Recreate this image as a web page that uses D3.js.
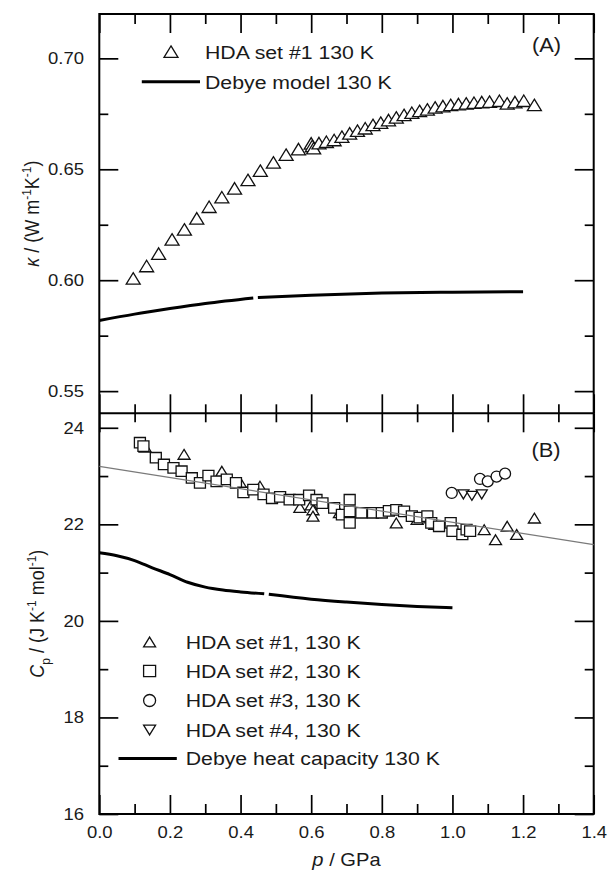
<!DOCTYPE html>
<html>
<head>
<meta charset="utf-8">
<script src="https://cdn.jsdelivr.net/npm/d3@7"></script>
<style>
  html, body { margin: 0; padding: 0; background: #fff; }
  svg { display: block; font-family: 'Liberation Sans', Arial, sans-serif; }
</style>
</head>
<body>
<div id="chart"></div>
<script>
// ---- data ----
const pMajor = [0, 0.2, 0.4, 0.6, 0.8, 1.0, 1.2, 1.4];
const pMinor = [0.1, 0.3, 0.5, 0.7, 0.9, 1.1, 1.3];
const kappaMajor = [0.55, 0.60, 0.65, 0.70];
const kappaMinor = [0.575, 0.625, 0.675];
const cpMajor = [16, 18, 20, 22, 24];
const cpMinor = [17, 19, 21, 23];

// (A) thermal conductivity, HDA set #1
const kappaSet1 = [
  [0.096, 0.6008], [0.134, 0.6064], [0.168, 0.6120], [0.206, 0.6184], [0.241, 0.6229],
  [0.276, 0.6279], [0.311, 0.6331], [0.347, 0.6374], [0.383, 0.6414], [0.421, 0.6452],
  [0.456, 0.6494], [0.493, 0.6531], [0.529, 0.6566], [0.564, 0.6591], [0.600, 0.6617],
  [0.603, 0.6605], [0.607, 0.6595], [0.622, 0.6618], [0.643, 0.6624], [0.665, 0.6632],
  [0.687, 0.6647], [0.709, 0.6662], [0.731, 0.6674], [0.753, 0.6685], [0.775, 0.6700],
  [0.797, 0.6710], [0.819, 0.6722], [0.841, 0.6734], [0.863, 0.6745], [0.885, 0.6755],
  [0.907, 0.6763], [0.929, 0.6770], [0.951, 0.6779], [0.973, 0.6785], [0.995, 0.6790],
  [1.017, 0.6794], [1.039, 0.6797], [1.061, 0.6800], [1.083, 0.6803], [1.105, 0.6805],
  [1.133, 0.6809], [1.155, 0.6797], [1.177, 0.6803], [1.202, 0.6809], [1.232, 0.6790]
];
// Debye model, drawn in two pieces (small gap in the original)
const kappaDebyeA = [[0, 0.5818], [0.1, 0.5847], [0.2, 0.5872], [0.3, 0.5895], [0.436, 0.5920]];
const kappaDebyeB = [[0.449, 0.5922], [0.6, 0.5932], [0.8, 0.5942], [1.0, 0.5946], [1.2, 0.5948]];

// (B) heat capacity
const cpSet1 = [
  [0.13, 23.60], [0.24, 23.45], [0.347, 23.10], [0.40, 22.86], [0.455, 22.79],
  [0.568, 22.35], [0.60, 22.40], [0.605, 22.30], [0.605, 22.17], [0.68, 22.24],
  [0.841, 22.03], [0.90, 22.10], [0.95, 22.00], [1.09, 21.89], [1.122, 21.68],
  [1.155, 21.96], [1.182, 21.79], [1.232, 22.13]
];
const cpSet2 = [
  [0.115, 23.69], [0.125, 23.62], [0.160, 23.38], [0.183, 23.24], [0.210, 23.17],
  [0.233, 23.10], [0.262, 22.96], [0.285, 22.86], [0.309, 23.01], [0.332, 22.89],
  [0.361, 22.93], [0.387, 22.86], [0.408, 22.66], [0.436, 22.72], [0.465, 22.62],
  [0.489, 22.54], [0.512, 22.57], [0.539, 22.51], [0.566, 22.51], [0.594, 22.60],
  [0.615, 22.51], [0.632, 22.44], [0.665, 22.34], [0.687, 22.20], [0.709, 22.51],
  [0.709, 22.27], [0.709, 22.03], [0.742, 22.24], [0.775, 22.24], [0.800, 22.24],
  [0.820, 22.28], [0.841, 22.30], [0.863, 22.27], [0.885, 22.17], [0.907, 22.14],
  [0.929, 22.17], [0.940, 22.03], [0.962, 21.96], [0.995, 22.03], [1.000, 21.86],
  [1.028, 21.79], [1.040, 21.89], [1.050, 21.86]
];
const cpSet3 = [[0.998, 22.65], [1.078, 22.94], [1.100, 22.89], [1.125, 22.99], [1.149, 23.05]];
const cpSet4 = [[1.031, 22.62], [1.055, 22.59], [1.083, 22.62]];
const cpFit = [[0, 23.20], [1.4, 21.58]];
const cpDebyeA = [[0, 21.41], [0.05, 21.35], [0.1, 21.25], [0.15, 21.10], [0.2, 20.96],
  [0.25, 20.80], [0.3, 20.70], [0.35, 20.64], [0.4, 20.60], [0.467, 20.56]];
const cpDebyeB = [[0.48, 20.55], [0.6, 20.45], [0.7, 20.39], [0.8, 20.34], [0.9, 20.30], [1.0, 20.27]];

const legendTop = ['HDA set #1 130 K', 'Debye model 130 K'];
const legendBottom = ['HDA set #1, 130 K', 'HDA set #2, 130 K', 'HDA set #3, 130 K',
  'HDA set #4, 130 K', 'Debye heat capacity 130 K'];

// ---- layout ----
const width = 608, height = 870;
const left = 99.3, right = 593.7;
const topY = 14, midY = 413.3, bottomY = 814;
const SX = 1.12; // the original figure is a bit stretched horizontally

const svg = d3.select('#chart').append('svg')
  .attr('width', width).attr('height', height)
  .attr('viewBox', `0 0 ${width} ${height}`);

const x = d3.scaleLinear().domain([0, 1.4]).range([left, right]);
const yK = d3.scaleLinear().domain([0.54, 0.72]).range([midY, topY]);
const yC = d3.scaleLinear().domain([16, 24.3]).range([bottomY, midY]);

// custom marker shapes (w = width)
const triUp = { draw(ctx, w) { const h = w * 0.82; ctx.moveTo(0, -h / 2); ctx.lineTo(w / 2, h / 2); ctx.lineTo(-w / 2, h / 2); ctx.closePath(); } };
const triDown = { draw(ctx, w) { const h = w * 0.82; ctx.moveTo(0, h / 2); ctx.lineTo(w / 2, -h / 2); ctx.lineTo(-w / 2, -h / 2); ctx.closePath(); } };
const square = { draw(ctx, w) { const h = w * 0.95; ctx.rect(-w / 2, -h / 2, w, h); } };
const ellipse = { draw(ctx, w) { const r = w / 2; ctx.moveTo(r, 0); ctx.arc(0, 0, r, 0, 2 * Math.PI); } };

// ---- axes ----
function addAxis(gen, scale, tx, ty, values, len, fmt, pad) {
  const g = svg.append('g')
    .attr('transform', `translate(${tx},${ty})`)
    .call(gen(scale).tickValues(values).tickSizeInner(-len).tickSizeOuter(0)
      .tickPadding(pad || 0).tickFormat(fmt || (() => '')));
  g.select('.domain').remove();
  g.selectAll('line').attr('stroke', '#000').attr('stroke-width', 1.7);
  g.selectAll('text')
    .attr('fill', '#1a1a1a')
    .attr('transform', `scale(${SX},1)`)
    .style('font-size', '16.5px')
    .style('font-family', "'Liberation Sans', Arial, sans-serif");
  return g;
}

// x ticks: top border, divider (both ways), bottom border
addAxis(d3.axisTop, x, 0, topY, pMajor, 19);
addAxis(d3.axisTop, x, 0, topY, pMinor, 10);
addAxis(d3.axisBottom, x, 0, midY, pMajor, 19);
addAxis(d3.axisBottom, x, 0, midY, pMinor, 9);
addAxis(d3.axisTop, x, 0, midY, pMajor, 19);
addAxis(d3.axisTop, x, 0, midY, pMinor, 9);
addAxis(d3.axisBottom, x, 0, bottomY, pMajor, 19, d3.format('.1f'), 12.7);
addAxis(d3.axisBottom, x, 0, bottomY, pMinor, 10);

// y ticks, panel A
addAxis(d3.axisLeft, yK, left, 0, kappaMajor, 19, d3.format('.2f'), 13.7);
addAxis(d3.axisLeft, yK, left, 0, kappaMinor, 9);
addAxis(d3.axisRight, yK, right, 0, kappaMajor, 19);
addAxis(d3.axisRight, yK, right, 0, kappaMinor, 9);
// y ticks, panel B
addAxis(d3.axisLeft, yC, left, 0, cpMajor, 19, d3.format('d'), 13.7);
addAxis(d3.axisLeft, yC, left, 0, cpMinor, 9);
addAxis(d3.axisRight, yC, right, 0, cpMajor, 19);
addAxis(d3.axisRight, yC, right, 0, cpMinor, 9);

// frame + divider
svg.append('rect')
  .attr('x', left).attr('y', topY)
  .attr('width', right - left).attr('height', bottomY - topY)
  .attr('fill', 'none').attr('stroke', '#000').attr('stroke-width', 2);
svg.append('line')
  .attr('x1', left).attr('x2', right).attr('y1', midY).attr('y2', midY)
  .attr('stroke', '#000').attr('stroke-width', 2);

// ---- marks ----
function markers(data, yScale, type, w) {
  svg.append('g').selectAll('path')
    .data(data)
    .join('path')
    .attr('transform', d => `translate(${x(d[0])},${yScale(d[1])})`)
    .attr('d', d3.symbol().type(type).size(w))
    .attr('fill', '#fff')
    .attr('stroke', '#111')
    .attr('stroke-width', 1.3);
}
function curve(data, yScale, stroke, sw) {
  svg.append('path')
    .datum(data)
    .attr('d', d3.line().x(d => x(d[0])).y(d => yScale(d[1])).curve(d3.curveMonotoneX))
    .attr('fill', 'none')
    .attr('stroke', stroke)
    .attr('stroke-width', sw);
}

// panel A
curve(kappaDebyeA, yK, '#000', 3);
curve(kappaDebyeB, yK, '#000', 3);
markers(kappaSet1, yK, triUp, 14);

// panel B
curve(cpDebyeA, yC, '#000', 3);
curve(cpDebyeB, yC, '#000', 3);
markers(cpSet1, yC, triUp, 12);
markers(cpSet2, yC, square, 11);
markers(cpSet3, yC, ellipse, 11);
markers(cpSet4, yC, triDown, 11);
curve(cpFit, yC, '#7a7a7a', 1.2);

// ---- text helpers ----
function stext(px, py, size, anchor) {
  return svg.append('text')
    .attr('transform', `translate(${px},${py}) scale(${SX},1)`)
    .attr('text-anchor', anchor || 'start')
    .attr('fill', '#1a1a1a')
    .style('font-size', size + 'px');
}

// panel labels
stext(546.5, 51.7, 19.5, 'middle').text('(A)');
stext(546, 457, 19.5, 'middle').text('(B)');

// legend A
const legA = svg.append('g');
legA.append('path')
  .attr('transform', `translate(171,51.7)`)
  .attr('d', d3.symbol().type(triUp).size(14))
  .attr('fill', '#fff').attr('stroke', '#111').attr('stroke-width', 1.3);
legA.append('line')
  .attr('x1', 141.8).attr('x2', 200).attr('y1', 81.7).attr('y2', 81.7)
  .attr('stroke', '#000').attr('stroke-width', 3);
legendTop.forEach((t, i) => stext(205, 58.6 + i * 30, 19).text(t));

// legend B
const legRows = [642, 671, 700.5, 730, 758.5];
const legTypes = [triUp, square, ellipse, triDown];
legTypes.forEach((tp, i) => {
  svg.append('path')
    .attr('transform', `translate(149.6,${legRows[i]})`)
    .attr('d', d3.symbol().type(tp).size(12))
    .attr('fill', '#fff').attr('stroke', '#111').attr('stroke-width', 1.3);
});
svg.append('line')
  .attr('x1', 118.5).attr('x2', 176.8).attr('y1', legRows[4]).attr('y2', legRows[4])
  .attr('stroke', '#000').attr('stroke-width', 3);
legendBottom.forEach((t, i) => stext(185.7, legRows[i] + 6.8, 19).text(t));

// axis titles
const xt = stext((left + right) / 2, 866, 18, 'middle');
xt.append('tspan').style('font-style', 'italic').text('p');
xt.append('tspan').text(' / GPa');

function ytitle(px, py) {
  return svg.append('text')
    .attr('transform', `translate(${px},${py}) scale(${SX},1) rotate(-90)`)
    .attr('text-anchor', 'middle')
    .attr('fill', '#1a1a1a')
    .style('font-size', '18px');
}
const yt1 = ytitle(39, (topY + midY) / 2);
yt1.append('tspan').style('font-style', 'italic').text('κ');
yt1.append('tspan').text(' / (W m');
yt1.append('tspan').attr('dy', -7).style('font-size', '12px').text('-1');
yt1.append('tspan').attr('dy', 7).text('K');
yt1.append('tspan').attr('dy', -7).style('font-size', '12px').text('-1');
yt1.append('tspan').attr('dy', 7).text(')');

const yt2 = ytitle(44, (midY + bottomY) / 2);
yt2.append('tspan').style('font-style', 'italic').text('C');
yt2.append('tspan').attr('dy', 5).style('font-size', '12px').text('p');
yt2.append('tspan').attr('dy', -5).text(' / (J K');
yt2.append('tspan').attr('dy', -7).style('font-size', '12px').text('-1');
yt2.append('tspan').attr('dy', 7).text(' mol');
yt2.append('tspan').attr('dy', -7).style('font-size', '12px').text('-1');
yt2.append('tspan').attr('dy', 7).text(')');
</script>
</body>
</html>
